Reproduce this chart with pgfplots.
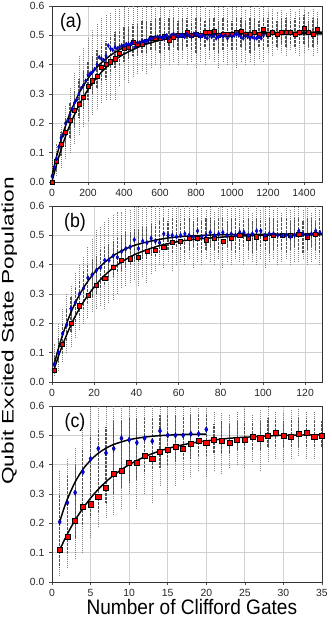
\documentclass[border=0pt]{standalone}
\usepackage{fontspec}
\setmainfont{Liberation Sans}
\usepackage{graphicx}
\usepackage{pgfplots}
\pgfplotsset{compat=1.18}

\tikzset{lett/.style={font=\fontsize{13.3}{15}\selectfont}}
\pgfplotsset{
 panel/.style={
  scale only axis, width=202.5pt, height=132pt,
  ymin=0, ymax=0.6, ytick={0,0.1,0.2,0.3,0.4,0.5,0.6},
  unbounded coords=jump,
  grid=major, major grid style={black!18, line width=0.6pt},
  axis line style={black!80, line width=0.6pt},
  tick align=outside, major tick length=2.2pt,
  xtick pos=bottom, ytick pos=left,
  tick style={black!70, line width=0.5pt},
  ticklabel style={font=\fontsize{7.8}{9}\selectfont, text=black!85},
  /pgf/number format/assume math mode=true,
  yticklabel style={/pgf/number format/.cd, fixed, fixed zerofill, precision=1},
  xticklabel style={/pgf/number format/.cd, fixed, 1000 sep={}},
 },
 outer/.style={black!50, line width=0.7pt, dash pattern=on 0.5pt off 1.0pt},
 inner/.style={black!68, line width=0.8pt, dash pattern=on 0.55pt off 0.45pt},
 fit/.style={black, line width=1.1pt, smooth, no marks},
 redm/.style={only marks, mark=square*, mark size=1.55pt, mark options={fill=red, draw=black, line width=0.4pt}},
 bluem/.style={only marks, mark=diamond*, mark size=1.35pt, mark options={fill=blue, draw=blue!50!black, line width=0.3pt, yscale=1.3}},
}

\begin{document}
\begin{tikzpicture}
\useasboundingbox (-39pt,4.5pt) rectangle (210pt,-459pt);

% ---------------- (a)
\begin{axis}[panel, at={(0pt,0pt)}, anchor=north west,
  xmin=0, xmax=1500, xtick={0,200,400,600,800,1000,1200,1400}]
\addplot[outer] coordinates {
(0,0.00)(0,0.08)(0,nan) (25,0.02)(25,0.13)(25,nan) (50,0.05)(50,0.20)(50,nan) (75,0.08)(75,0.26)(75,nan)
(100,0.10)(100,0.32)(100,nan) (125,0.13)(125,0.37)(125,nan) (150,0.16)(150,0.43)(150,nan) (175,0.19)(175,0.46)(175,nan)
(200,0.21)(200,0.49)(200,nan) (225,0.23)(225,0.52)(225,nan) (250,0.25)(250,0.54)(250,nan) (275,0.27)(275,0.56)(275,nan)
(300,0.28)(300,0.57)(300,nan) (325,0.28)(325,0.58)(325,nan) (350,0.28)(350,0.59)(350,nan) (375,0.33)(375,0.59)(375,nan)
(400,0.35)(400,0.60)(400,nan) (425,0.34)(425,0.60)(425,nan) (450,0.36)(450,0.60)(450,nan) (475,0.37)(475,0.60)(475,nan)
(500,0.38)(500,0.60)(500,nan) (525,0.37)(525,0.60)(525,nan) (550,0.39)(550,0.60)(550,nan) (575,0.40)(575,0.60)(575,nan)
(600,0.39)(600,0.60)(600,nan) (625,0.41)(625,0.60)(625,nan) (650,0.40)(650,0.59)(650,nan) (675,0.41)(675,0.60)(675,nan)
(700,0.40)(700,0.60)(700,nan) (725,0.42)(725,0.60)(725,nan) (750,0.40)(750,0.60)(750,nan) (775,0.41)(775,0.60)(775,nan)
(800,0.39)(800,0.60)(800,nan) (825,0.41)(825,0.60)(825,nan) (850,0.40)(850,0.60)(850,nan) (875,0.42)(875,0.59)(875,nan)
(900,0.41)(900,0.60)(900,nan) (925,0.39)(925,0.60)(925,nan) (950,0.41)(950,0.60)(950,nan) (975,0.40)(975,0.60)(975,nan)
(1000,0.41)(1000,0.60)(1000,nan) (1025,0.39)(1025,0.60)(1025,nan) (1050,0.41)(1050,0.60)(1050,nan) (1075,0.40)(1075,0.59)(1075,nan)
(1100,0.41)(1100,0.60)(1100,nan) (1125,0.40)(1125,0.60)(1125,nan) (1150,0.42)(1150,0.60)(1150,nan) (1175,0.41)(1175,0.60)(1175,nan)
(1200,0.44)(1200,0.58)(1200,nan) (1225,0.43)(1225,0.59)(1225,nan) (1250,0.45)(1250,0.58)(1250,nan) (1275,0.44)(1275,0.59)(1275,nan)
(1300,0.43)(1300,0.58)(1300,nan) (1325,0.45)(1325,0.59)(1325,nan) (1350,0.44)(1350,0.58)(1350,nan) (1375,0.43)(1375,0.59)(1375,nan)
(1400,0.44)(1400,0.59)(1400,nan) (1425,0.45)(1425,0.58)(1425,nan) (1450,0.43)(1450,0.59)(1450,nan) (1475,0.44)(1475,0.58)(1475,nan)
};
\addplot[inner] coordinates {
(0,0.00)(0,0.04)(0,nan) (25,0.04)(25,0.10)(25,nan) (50,0.09)(50,0.17)(50,nan) (75,0.12)(75,0.22)(75,nan)
(100,0.15)(100,0.27)(100,nan) (125,0.19)(125,0.31)(125,nan) (150,0.22)(150,0.35)(150,nan) (175,0.25)(175,0.38)(175,nan)
(200,0.28)(200,0.41)(200,nan) (225,0.30)(225,0.43)(225,nan) (250,0.32)(250,0.45)(250,nan) (275,0.34)(275,0.47)(275,nan)
(300,0.35)(300,0.48)(300,nan) (325,0.37)(325,0.50)(325,nan) (350,0.39)(350,0.51)(350,nan) (375,0.40)(375,0.52)(375,nan)
(400,0.41)(400,0.53)(400,nan) (425,0.42)(425,0.53)(425,nan) (450,0.43)(450,0.54)(450,nan) (475,0.43)(475,0.54)(475,nan)
(500,0.44)(500,0.55)(500,nan) (525,0.44)(525,0.55)(525,nan) (550,0.45)(550,0.55)(550,nan) (575,0.45)(575,0.56)(575,nan)
(600,0.44)(600,0.56)(600,nan) (625,0.45)(625,0.55)(625,nan) (650,0.45)(650,0.56)(650,nan) (675,0.46)(675,0.56)(675,nan)
(700,0.45)(700,0.55)(700,nan) (725,0.45)(725,0.56)(725,nan) (750,0.46)(750,0.56)(750,nan) (775,0.45)(775,0.55)(775,nan)
(800,0.44)(800,0.56)(800,nan) (825,0.45)(825,0.56)(825,nan) (850,0.46)(850,0.55)(850,nan) (875,0.45)(875,0.56)(875,nan)
(900,0.45)(900,0.56)(900,nan) (925,0.44)(925,0.55)(925,nan) (950,0.45)(950,0.56)(950,nan) (975,0.46)(975,0.56)(975,nan)
(1000,0.45)(1000,0.55)(1000,nan) (1025,0.45)(1025,0.56)(1025,nan) (1050,0.46)(1050,0.56)(1050,nan) (1075,0.45)(1075,0.55)(1075,nan)
(1100,0.44)(1100,0.56)(1100,nan) (1125,0.45)(1125,0.56)(1125,nan) (1150,0.46)(1150,0.55)(1150,nan) (1175,0.45)(1175,0.56)(1175,nan)
(1200,0.46)(1200,0.56)(1200,nan) (1225,0.47)(1225,0.56)(1225,nan) (1250,0.46)(1250,0.55)(1250,nan) (1275,0.47)(1275,0.56)(1275,nan)
(1300,0.46)(1300,0.56)(1300,nan) (1325,0.47)(1325,0.55)(1325,nan) (1350,0.46)(1350,0.56)(1350,nan) (1375,0.47)(1375,0.56)(1375,nan)
(1400,0.47)(1400,0.57)(1400,nan) (1425,0.46)(1425,0.55)(1425,nan) (1450,0.46)(1450,0.56)(1450,nan) (1475,0.47)(1475,0.56)(1475,nan)
};
\addplot[fit] coordinates {(0,0.002)(25,0.059)(50,0.110)(75,0.155)(100,0.195)(150,0.262)(200,0.315)(250,0.357)(300,0.390)(350,0.416)(400,0.436)(500,0.465)(600,0.483)(700,0.494)(800,0.501)(1000,0.508)(1200,0.510)(1500,0.511)};
\addplot[fit] coordinates {(0,0.020)(25,0.086)(50,0.142)(75,0.191)(100,0.234)(150,0.302)(200,0.353)(250,0.392)(300,0.420)(350,0.442)(400,0.458)(500,0.479)(600,0.490)(700,0.497)(800,0.500)(1000,0.504)(1200,0.505)(1500,0.505)};
\addplot[redm] coordinates {
(0,0.0)(25,0.07)(50,0.13)(75,0.17)(100,0.21)(125,0.245)(150,0.265)(175,0.29)(200,0.325)(225,0.345)
(250,0.36)(275,0.39)(300,0.40)(325,0.41)(350,0.42)(375,0.44)(400,0.455)(425,0.46)(450,0.475)(475,0.47)
(500,0.47)(525,0.48)(550,0.49)(575,0.49)(600,0.49)(625,0.495)(650,0.485)(675,0.495)(700,0.50)(725,0.50)
(750,0.51)(775,0.50)(800,0.505)(825,0.50)(850,0.51)(875,0.51)(900,0.515)(925,0.50)(950,0.505)(975,0.505)
(1000,0.505)(1025,0.51)(1050,0.515)(1075,0.505)(1100,0.505)(1125,0.51)(1150,0.505)(1175,0.52)(1200,0.505)(1225,0.51)
(1250,0.505)(1275,0.51)(1300,0.51)(1325,0.51)(1350,0.505)(1375,0.51)(1400,0.525)(1425,0.51)(1450,0.505)(1475,0.52)};
\addplot[bluem, mark size=1.2pt] coordinates {
(0,0.02)(12.5,0.05)(25,0.08)(37.5,0.12)(50,0.15)(62.5,0.16)(75,0.20)(87.5,0.21)(100,0.23)(112.5,0.25)
(125,0.27)(137.5,0.28)(150,0.30)(162.5,0.32)(175,0.33)(187.5,0.345)(200,0.365)(212.5,0.37)(225,0.375)(237.5,0.385)
(250,0.40)(262.5,0.425)(275,0.42)(287.5,0.415)(300,0.43)(312.5,0.465)(325,0.455)(337.5,0.45)(350,0.46)(362.5,0.455)
(375,0.46)(387.5,0.465)(400,0.465)(412.5,0.47)(425,0.47)(437.5,0.47)(450,0.475)(462.5,0.46)(475,0.475)(487.5,0.475)
(500,0.48)(512.5,0.48)(525,0.48)(537.5,0.485)(550,0.49)(562.5,0.49)(575,0.495)(587.5,0.495)(600,0.495)(612.5,0.49)
(625,0.495)(637.5,0.50)(650,0.49)(662.5,0.50)(675,0.505)(687.5,0.50)(700,0.495)(712.5,0.50)(725,0.50)(737.5,0.495)
(750,0.505)(762.5,0.50)(775,0.495)(787.5,0.505)(800,0.505)(812.5,0.50)(825,0.495)(837.5,0.50)(850,0.495)(862.5,0.49)
(875,0.50)(887.5,0.495)(900,0.50)(912.5,0.49)(925,0.495)(937.5,0.50)(950,0.495)(962.5,0.50)(975,0.49)(987.5,0.50)
(1000,0.495)(1012.5,0.50)(1025,0.505)(1037.5,0.50)(1050,0.495)(1062.5,0.49)(1075,0.50)(1087.5,0.495)(1100,0.49)(1112.5,0.495)
(1125,0.49)(1137.5,0.49)(1150,0.495)(1162.5,0.49)(1175,0.50)};
\node[lett] at (axis description cs:0.07,0.908) {\scalebox{1}[1.1]{(a)}};
\end{axis}

% ---------------- (b)
\begin{axis}[panel, at={(0pt,-150pt)}, anchor=north west,
  xmin=0, xmax=128, xtick={0,20,40,60,80,100,120},
  ylabel={\scalebox{1.36}[1]{\fontsize{12.5}{15}\selectfont Qubit Excited State Population}},
  ylabel style={at={(axis description cs:-0.158,0.29)}, anchor=center, inner sep=0pt}]
\addplot[outer] coordinates {
(1,0.02)(1,0.13)(1,nan) (3,0.04)(3,0.20)(3,nan) (5,0.07)(5,0.25)(5,nan) (7,0.10)(7,0.30)(7,nan)
(9,0.12)(9,0.33)(9,nan) (11,0.15)(11,0.37)(11,nan) (13,0.18)(13,0.40)(13,nan) (15,0.20)(15,0.43)(15,nan)
(17,0.22)(17,0.46)(17,nan) (19,0.24)(19,0.49)(19,nan) (21,0.25)(21,0.52)(21,nan) (23,0.26)(23,0.53)(23,nan)
(25,0.25)(25,0.55)(25,nan) (27,0.27)(27,0.56)(27,nan) (29,0.28)(29,0.57)(29,nan) (31,0.30)(31,0.58)(31,nan)
(33,0.32)(33,0.58)(33,nan) (35,0.33)(35,0.59)(35,nan) (37,0.34)(37,0.59)(37,nan) (39,0.35)(39,0.60)(39,nan)
(41,0.33)(41,0.60)(41,nan) (43,0.36)(43,0.60)(43,nan) (45,0.34)(45,0.60)(45,nan) (47,0.37)(47,0.60)(47,nan)
(49,0.38)(49,0.60)(49,nan) (51,0.40)(51,0.60)(51,nan) (53,0.39)(53,0.60)(53,nan) (55,0.41)(55,0.59)(55,nan)
(57,0.38)(57,0.60)(57,nan) (59,0.40)(59,0.60)(59,nan) (61,0.41)(61,0.59)(61,nan) (63,0.40)(63,0.60)(63,nan)
(65,0.42)(65,0.60)(65,nan) (67,0.39)(67,0.59)(67,nan) (69,0.41)(69,0.60)(69,nan) (71,0.40)(71,0.60)(71,nan)
(73,0.42)(73,0.59)(73,nan) (75,0.41)(75,0.60)(75,nan) (77,0.40)(77,0.58)(77,nan) (79,0.42)(79,0.60)(79,nan)
(81,0.39)(81,0.60)(81,nan) (83,0.41)(83,0.59)(83,nan) (85,0.40)(85,0.60)(85,nan) (87,0.42)(87,0.60)(87,nan)
(89,0.41)(89,0.59)(89,nan) (91,0.40)(91,0.60)(91,nan) (93,0.42)(93,0.60)(93,nan) (95,0.41)(95,0.58)(95,nan)
(97,0.40)(97,0.60)(97,nan) (99,0.42)(99,0.59)(99,nan) (101,0.39)(101,0.60)(101,nan) (103,0.41)(103,0.60)(103,nan)
(105,0.42)(105,0.59)(105,nan) (107,0.40)(107,0.60)(107,nan) (109,0.41)(109,0.58)(109,nan) (111,0.42)(111,0.60)(111,nan)
(113,0.40)(113,0.59)(113,nan) (115,0.41)(115,0.60)(115,nan) (117,0.41)(117,0.60)(117,nan) (119,0.42)(119,0.59)(119,nan)
(121,0.40)(121,0.60)(121,nan) (123,0.41)(123,0.58)(123,nan) (125,0.42)(125,0.60)(125,nan) (127,0.40)(127,0.59)(127,nan)
};
\addplot[inner] coordinates {
(1,0.03)(1,0.09)(1,nan) (3,0.07)(3,0.15)(3,nan) (5,0.10)(5,0.20)(5,nan) (7,0.14)(7,0.25)(7,nan)
(9,0.17)(9,0.29)(9,nan) (11,0.20)(11,0.32)(11,nan) (13,0.22)(13,0.35)(13,nan) (15,0.25)(15,0.38)(15,nan)
(17,0.27)(17,0.40)(17,nan) (19,0.29)(19,0.42)(19,nan) (21,0.30)(21,0.43)(21,nan) (23,0.32)(23,0.45)(23,nan)
(25,0.33)(25,0.46)(25,nan) (27,0.35)(27,0.47)(27,nan) (29,0.36)(29,0.48)(29,nan) (31,0.37)(31,0.49)(31,nan)
(33,0.38)(33,0.50)(33,nan) (35,0.39)(35,0.51)(35,nan) (37,0.40)(37,0.51)(37,nan) (39,0.41)(39,0.52)(39,nan)
(41,0.41)(41,0.52)(41,nan) (43,0.42)(43,0.53)(43,nan) (45,0.42)(45,0.53)(45,nan) (47,0.43)(47,0.54)(47,nan)
(49,0.43)(49,0.54)(49,nan) (51,0.44)(51,0.55)(51,nan) (53,0.45)(53,0.56)(53,nan) (55,0.45)(55,0.55)(55,nan)
(57,0.44)(57,0.56)(57,nan) (59,0.46)(59,0.56)(59,nan) (61,0.45)(61,0.55)(61,nan) (63,0.44)(63,0.56)(63,nan)
(65,0.45)(65,0.56)(65,nan) (67,0.46)(67,0.55)(67,nan) (69,0.45)(69,0.56)(69,nan) (71,0.44)(71,0.55)(71,nan)
(73,0.45)(73,0.56)(73,nan) (75,0.46)(75,0.56)(75,nan) (77,0.45)(77,0.55)(77,nan) (79,0.44)(79,0.56)(79,nan)
(81,0.45)(81,0.56)(81,nan) (83,0.46)(83,0.55)(83,nan) (85,0.45)(85,0.56)(85,nan) (87,0.44)(87,0.56)(87,nan)
(89,0.45)(89,0.55)(89,nan) (91,0.46)(91,0.56)(91,nan) (93,0.45)(93,0.56)(93,nan) (95,0.44)(95,0.55)(95,nan)
(97,0.45)(97,0.56)(97,nan) (99,0.46)(99,0.56)(99,nan) (101,0.45)(101,0.55)(101,nan) (103,0.44)(103,0.56)(103,nan)
(105,0.45)(105,0.56)(105,nan) (107,0.46)(107,0.55)(107,nan) (109,0.45)(109,0.56)(109,nan) (111,0.44)(111,0.56)(111,nan)
(113,0.45)(113,0.55)(113,nan) (115,0.46)(115,0.56)(115,nan) (117,0.45)(117,0.56)(117,nan) (119,0.44)(119,0.55)(119,nan)
(121,0.45)(121,0.56)(121,nan) (123,0.46)(123,0.56)(123,nan) (125,0.45)(125,0.55)(125,nan) (127,0.44)(127,0.56)(127,nan)
};
\addplot[fit] coordinates {(1,0.060)(3,0.113)(5,0.160)(8,0.220)(11,0.269)(15,0.322)(20,0.372)(25,0.408)(30,0.435)(35,0.454)(40,0.468)(50,0.485)(60,0.495)(75,0.501)(90,0.503)(128,0.505)};
\addplot[fit] coordinates {(1,0.043)(3,0.087)(5,0.126)(8,0.179)(11,0.224)(15,0.274)(20,0.324)(25,0.364)(30,0.394)(35,0.418)(40,0.437)(50,0.463)(60,0.479)(70,0.488)(85,0.496)(100,0.500)(128,0.502)};
\addplot[redm] coordinates {
(1,0.04)(5,0.13)(9,0.20)(13,0.26)(17,0.295)(21,0.33)(25,0.355)(29,0.39)(33,0.415)(37,0.42)(41,0.425)
(45,0.445)(49,0.45)(53,0.46)(57,0.475)(61,0.48)(65,0.49)(69,0.49)(73,0.485)(77,0.49)(81,0.48)(85,0.49)
(89,0.50)(93,0.49)(97,0.495)(101,0.49)(105,0.50)(109,0.50)(113,0.50)(117,0.505)(121,0.495)(125,0.505)};
\addplot[bluem] coordinates {
(1,0.06)(3,0.10)(5,0.165)(7,0.195)(9,0.25)(11,0.27)(13,0.30)(15,0.32)(17,0.355)(19,0.365)
(21,0.38)(23,0.39)(25,0.415)(27,0.415)(29,0.43)(31,0.425)(33,0.445)(35,0.455)(37,0.46)(39,0.485)
(41,0.455)(43,0.48)(45,0.475)(47,0.49)(49,0.48)(51,0.475)(53,0.505)(55,0.50)(57,0.50)(59,0.495)
(61,0.50)(63,0.505)(65,0.50)(67,0.495)(69,0.515)(71,0.495)(73,0.50)(75,0.51)(77,0.50)(79,0.505)
(81,0.51)(83,0.50)(85,0.505)(87,0.50)(89,0.51)(91,0.51)(93,0.50)(95,0.505)(97,0.515)(99,0.515)
(101,0.50)(103,0.505)(105,0.505)(107,0.50)(109,0.50)(111,0.50)(113,0.495)(115,0.50)(117,0.515)(119,0.505)
(121,0.50)(123,0.505)(125,0.515)(127,0.51)};
\node[lett] at (axis description cs:0.085,0.908) {\scalebox{1}[1.1]{(b)}};
\end{axis}

% ---------------- (c)
\begin{axis}[panel, at={(0pt,-300pt)}, anchor=north west,
  xmin=0, xmax=35, xtick={0,5,10,15,20,25,30,35},
  xlabel={\scalebox{1}[1.1]{\fontsize{14.3}{17}\selectfont Number of Clifford Gates}},
  xlabel style={at={(axis description cs:0.518,0)}, anchor=base, yshift=-24.75pt}]
\addplot[outer] coordinates {
(1,0.02)(1,0.38)(1,nan) (2,0.05)(2,0.42)(2,nan) (3,0.08)(3,0.46)(3,nan) (4,0.10)(4,0.55)(4,nan)
(5,0.15)(5,0.60)(5,nan) (6,0.19)(6,0.60)(6,nan) (7,0.22)(7,0.60)(7,nan) (8,0.23)(8,0.60)(8,nan)
(9,0.25)(9,0.60)(9,nan) (10,0.30)(10,0.60)(10,nan) (11,0.25)(11,0.60)(11,nan) (12,0.30)(12,0.60)(12,nan)
(13,0.27)(13,0.60)(13,nan) (14,0.33)(14,0.60)(14,nan) (15,0.30)(15,0.60)(15,nan) (16,0.33)(16,0.60)(16,nan)
(17,0.35)(17,0.60)(17,nan) (18,0.36)(18,0.60)(18,nan) (19,0.38)(19,0.60)(19,nan) (20,0.36)(20,0.60)(20,nan)
(21,0.38)(21,0.58)(21,nan) (22,0.37)(22,0.58)(22,nan) (23,0.39)(23,0.57)(23,nan) (24,0.40)(24,0.58)(24,nan)
(25,0.39)(25,0.59)(25,nan) (26,0.41)(26,0.57)(26,nan) (27,0.38)(27,0.59)(27,nan) (28,0.41)(28,0.60)(28,nan)
(29,0.42)(29,0.58)(29,nan) (30,0.41)(30,0.58)(30,nan) (31,0.42)(31,0.59)(31,nan) (32,0.43)(32,0.59)(32,nan)
(33,0.42)(33,0.58)(33,nan) (34,0.42)(34,0.58)(34,nan) (35,0.40)(35,0.58)(35,nan)
};
\addplot[inner] coordinates {
(1,0.05)(1,0.30)(1,nan) (2,0.10)(2,0.36)(2,nan) (3,0.15)(3,0.40)(3,nan) (4,0.19)(4,0.45)(4,nan)
(5,0.22)(5,0.50)(5,nan) (6,0.24)(6,0.52)(6,nan) (7,0.27)(7,0.53)(7,nan) (8,0.30)(8,0.55)(8,nan)
(9,0.32)(9,0.55)(9,nan) (10,0.34)(10,0.56)(10,nan) (11,0.35)(11,0.56)(11,nan) (12,0.37)(12,0.56)(12,nan)
(13,0.38)(13,0.56)(13,nan) (14,0.39)(14,0.57)(14,nan) (15,0.40)(15,0.57)(15,nan) (16,0.41)(16,0.57)(16,nan)
(17,0.42)(17,0.57)(17,nan) (18,0.42)(18,0.57)(18,nan) (19,0.43)(19,0.57)(19,nan) (20,0.43)(20,0.57)(20,nan)
(21,0.44)(21,0.54)(21,nan) (22,0.44)(22,0.55)(22,nan) (23,0.44)(23,0.54)(23,nan) (24,0.45)(24,0.55)(24,nan)
(25,0.45)(25,0.55)(25,nan) (26,0.45)(26,0.55)(26,nan) (27,0.45)(27,0.55)(27,nan) (28,0.46)(28,0.56)(28,nan)
(29,0.46)(29,0.56)(29,nan) (30,0.46)(30,0.55)(30,nan) (31,0.46)(31,0.56)(31,nan) (32,0.46)(32,0.56)(32,nan)
(33,0.46)(33,0.56)(33,nan) (34,0.46)(34,0.55)(34,nan) (35,0.46)(35,0.55)(35,nan)
};
\addplot[fit] coordinates {(1,0.110)(2,0.164)(3,0.211)(4,0.251)(5,0.286)(6,0.316)(7,0.342)(8,0.364)(9,0.383)(10,0.400)(12,0.427)(14,0.447)(16,0.462)(18,0.473)(20,0.481)(23,0.490)(26,0.495)(30,0.500)(35,0.502)};
\addplot[fit] coordinates {(1,0.205)(1.5,0.247)(2,0.283)(3,0.341)(4,0.384)(5,0.415)(6,0.439)(7,0.456)(8,0.469)(10,0.485)(12,0.494)(14,0.499)(17,0.503)(20,0.504)};
\addplot[redm, mark size=1.9pt] coordinates {
(1,0.11)(2,0.155)(3,0.21)(4,0.255)(5,0.265)(6,0.29)(7,0.32)(8,0.37)(9,0.38)(10,0.405)
(11,0.405)(12,0.43)(13,0.42)(14,0.445)(15,0.45)(16,0.46)(17,0.455)(18,0.47)(19,0.48)(20,0.475)
(21,0.485)(22,0.48)(23,0.475)(24,0.485)(25,0.485)(26,0.495)(27,0.49)(28,0.50)(29,0.51)(30,0.50)
(31,0.495)(32,0.505)(33,0.51)(34,0.495)(35,0.50)};
\addplot[bluem, mark size=1.6pt] coordinates {
(1,0.205)(2,0.27)(3,0.305)(4,0.375)(5,0.42)(6,0.455)(7,0.44)(8,0.455)(9,0.49)(10,0.485)
(11,0.475)(12,0.49)(13,0.48)(14,0.515)(15,0.50)(16,0.50)(17,0.50)(18,0.505)(19,0.505)(20,0.52)};
\node[lett] at (axis description cs:0.085,0.908) {\scalebox{1}[1.1]{(c)}};
\end{axis}
\end{tikzpicture}
\end{document}
